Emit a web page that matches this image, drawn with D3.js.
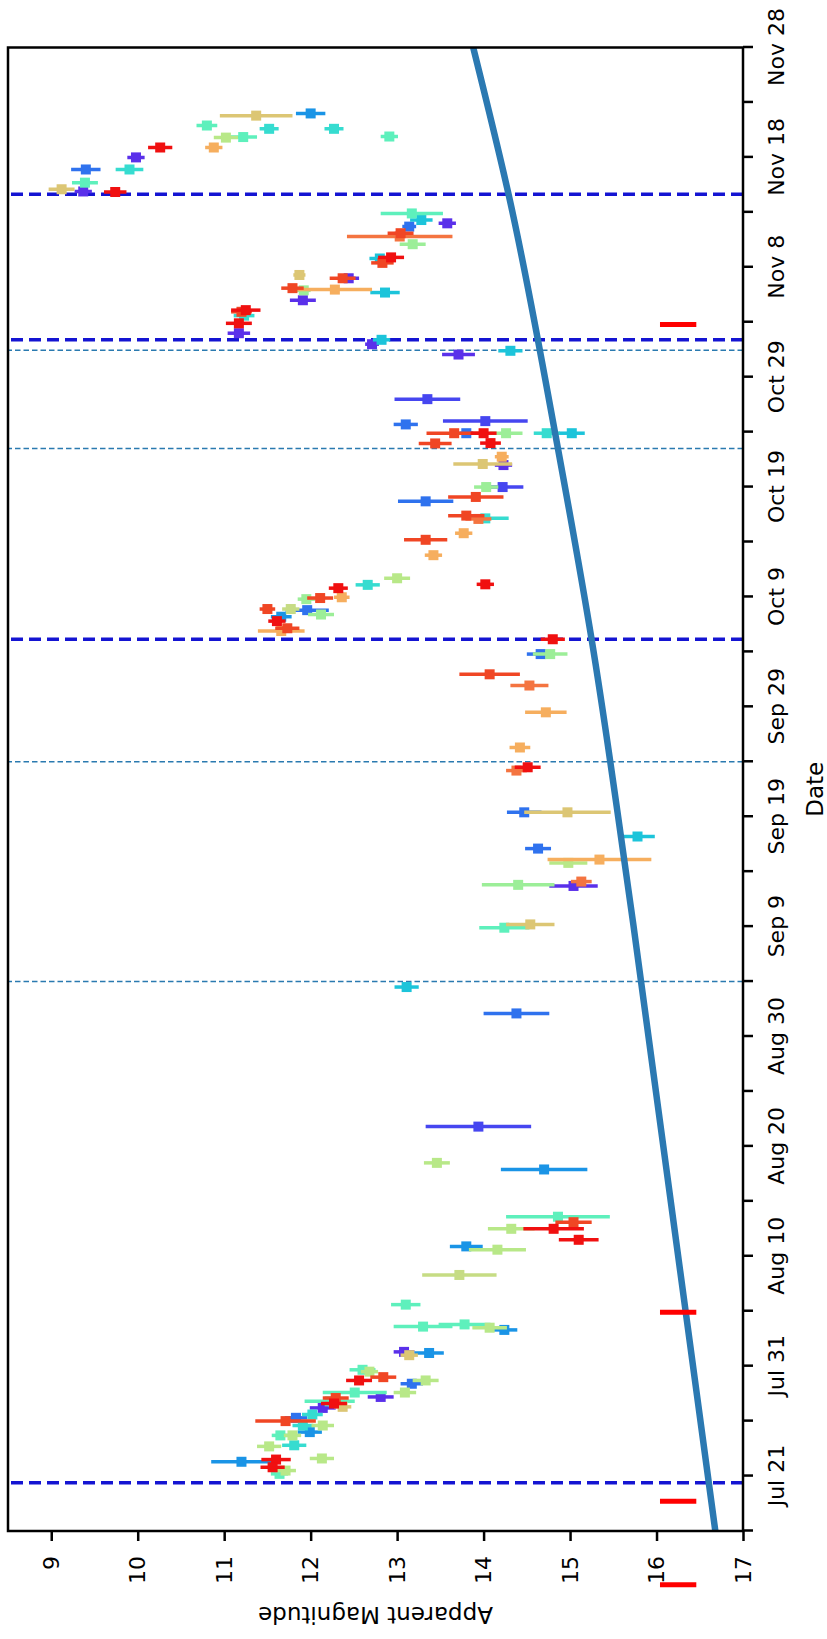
<!DOCTYPE html>
<html>
<head>
<meta charset="utf-8">
<script src="https://cdn.jsdelivr.net/npm/d3@7"></script>
<style>
  html, body { margin: 0; padding: 0; background: #ffffff; }
  svg { display: block; }
</style>
</head>
<body>
<svg id="chart" width="827" height="1639"></svg>
<script>
// ---------------- DATA (day-of-year 2020, magnitude, error) ----------------
const dateTickLabels = ["Jul 21","Jul 31","Aug 10","Aug 20","Aug 30","Sep 9","Sep 19","Sep 29","Oct 9","Oct 19","Oct 29","Nov 8","Nov 18","Nov 28"];
const magTicks = [9, 10, 11, 12, 13, 14, 15, 16, 17];
const dateDomain = [198, 333];          // Jul 16 .. Nov 28
const magDomain = [8.5, 17];

const thickDashedDates = [202.4, 279.15, 306.4, 319.65];
const thinDashedDates  = [248.0, 268.0, 296.5, 305.45];
const redMarkDates = [193.1, 200.7, 217.9, 307.8];
const redMarkRange = [16.04, 16.46];

const modelCurve = [[198, 16.68], [253.3, 15.73], [279.1, 15.25], [296.5, 14.86], [319.6, 14.29], [333, 13.88]];

const violet = [[323.0,9.98,0.10],[319.9,9.37,0.10],[317.0,13.58,0.10],[312.0,12.44,0.12],[310.0,11.91,0.15],[307.0,11.17,0.13],[306.0,12.71,0.08],[305.06,13.71,0.19],[295.0,14.23,0.10],[256.7,15.04,0.28],[214.3,13.08,0.12],[210.2,12.81,0.15],[209.2,12.14,0.15]];
const indigo = [[301.0,13.35,0.38],[299.0,14.02,0.49],[293.0,14.22,0.24],[234.8,13.94,0.61]];
const blue = [[321.9,9.40,0.17],[316.7,13.14,0.08],[298.7,13.10,0.14],[297.9,13.80,0.08],[291.7,13.33,0.32],[281.8,11.96,0.25],[277.8,14.66,0.16],[263.4,14.47,0.20],[260.1,14.63,0.15],[245.1,14.38,0.38],[211.4,13.17,0.13],[208.3,11.83,0.13]];
const azure = [[327.0,12.00,0.17],[281.2,11.66,0.12],[230.9,14.70,0.50],[223.9,13.80,0.19],[216.3,14.24,0.15],[214.2,13.37,0.17],[207.0,11.99,0.14],[204.3,11.20,0.35]];
const cyan = [[317.3,13.28,0.13],[313.8,12.80,0.12],[310.7,12.86,0.17],[306.4,12.82,0.10],[305.4,14.31,0.14],[297.9,15.02,0.15],[261.2,15.78,0.20],[247.5,13.11,0.14]];
const turquoise = [[325.6,11.52,0.11],[325.6,12.27,0.11],[321.9,9.905,0.16],[308.6,11.23,0.12],[297.9,14.73,0.15],[290.15,14.02,0.27],[284.1,12.66,0.14],[208.6,12.02,0.12],[207.6,11.91,0.12],[205.8,11.81,0.14]];
const aqua = [[325.9,10.80,0.12],[324.9,12.91,0.10],[324.85,11.22,0.16],[320.7,9.39,0.15],[317.9,13.17,0.36],[252.9,14.24,0.29],[226.6,14.86,0.60],[218.6,13.10,0.17],[216.6,13.30,0.34],[216.8,13.78,0.30],[212.67,12.60,0.15],[210.6,12.51,0.37],[209.8,12.22,0.29],[206.7,11.65,0.10],[203.2,11.64,0.10]];
const lightgreen = [[315.1,13.18,0.15],[310.9,11.92,0.08],[297.9,14.26,0.19],[293.0,14.03,0.14],[282.8,11.95,0.10],[281.4,12.12,0.15],[277.8,14.77,0.20],[256.8,14.40,0.42]];
const yellowgreen = [[324.8,11.02,0.14],[284.7,13.00,0.15],[258.8,14.98,0.22],[231.5,13.46,0.15],[225.5,14.32,0.27],[223.6,14.16,0.33],[216.5,14.07,0.20],[212.5,12.68,0.10],[211.7,13.33,0.15],[210.6,13.09,0.13],[207.6,12.14,0.13],[206.7,11.79,0.10],[205.7,11.52,0.14],[204.6,12.13,0.14],[203.5,11.71,0.12]];
const lime = [[281.9,11.77,0.10],[221.3,13.72,0.43]];
const khaki = [[326.8,11.37,0.42],[320.1,9.12,0.15],[312.3,11.87,0.07],[295.1,13.99,0.34],[263.4,14.97,0.50],[253.2,14.54,0.28],[214.0,13.14,0.10],[209.3,12.37,0.10]];
const lightorange = [[323.9,10.88,0.10],[310.97,12.28,0.43],[295.76,14.21,0.08],[288.8,13.77,0.10],[286.8,13.42,0.10],[282.97,12.36,0.09],[279.9,11.66,0.27],[272.5,14.72,0.24],[269.3,14.42,0.12],[259.1,15.34,0.60]];
const orange = [[315.8,13.03,0.61],[290.1,13.94,0.15],[274.94,14.53,0.22],[267.2,14.38,0.12],[257.1,15.13,0.12]];
const redorange = [[316.1,13.04,0.15],[313.4,12.83,0.13],[312.0,12.37,0.15],[311.1,11.79,0.13],[308.95,11.20,0.12],[297.9,13.66,0.32],[296.97,13.44,0.19],[292.1,13.91,0.32],[290.4,13.80,0.21],[288.2,13.33,0.25],[282.9,12.11,0.15],[281.9,11.50,0.09],[280.15,11.73,0.14],[275.96,14.07,0.35],[226.1,15.04,0.21],[212.0,12.84,0.15],[210.1,12.29,0.15],[208.0,11.71,0.35]];
const red = [[323.9,10.26,0.14],[319.85,9.74,0.13],[313.9,12.93,0.15],[309.1,11.25,0.17],[307.9,11.17,0.15],[297.9,14.00,0.15],[297.0,14.08,0.12],[284.15,14.02,0.10],[283.8,12.32,0.11],[280.8,11.61,0.10],[279.15,14.80,0.14],[267.5,14.51,0.15],[225.5,14.81,0.35],[224.5,15.10,0.23],[211.7,12.56,0.15],[209.6,12.27,0.15],[204.5,11.60,0.17],[203.8,11.56,0.14]];

const seriesList = [
  ["violet", violet], ["indigo", indigo], ["blue", blue], ["azure", azure], ["cyan", cyan],
  ["turquoise", turquoise], ["aqua", aqua], ["lightgreen", lightgreen], ["yellowgreen", yellowgreen],
  ["lime", lime], ["khaki", khaki], ["lightorange", lightorange], ["orange", orange],
  ["redorange", redorange], ["red", red]
];

// ---------------- STYLE ----------------
const seriesColors = {
  violet: "#5a30ea", indigo: "#4646f0", blue: "#2f72ee", azure: "#1a94e6", cyan: "#1cc4da",
  turquoise: "#36dcd0", aqua: "#5ef0bc", lightgreen: "#9cee98", yellowgreen: "#b8e888",
  lime: "#c6dc84", khaki: "#dcc674", lightorange: "#f6ae5e", orange: "#f47440",
  redorange: "#f04624", red: "#f01010"
};
const FONT = "DejaVu Sans, Liberation Sans, sans-serif";
const PAGE_W = 827, PAGE_H = 1639;
const box = { left: 8, right: 743, top: 47.5, bottom: 1531 };   // page coordinates
const MARK = 10;

// Chart drawn in an unrotated frame (width = page height), then rotated -90deg.
const svg = d3.select("#chart");
const root = svg.append("g").attr("transform", `translate(0,${PAGE_H}) rotate(-90)`);

const toDate = doy => new Date(Date.UTC(2020, 0, 1) + (doy - 1) * 864e5);
const x = d3.scaleUtc().domain(dateDomain.map(toDate)).range([PAGE_H - box.bottom, PAGE_H - box.top]);
const y = d3.scaleLinear().domain(magDomain).range([box.left, box.right]);

const x0 = x.range()[0], x1 = x.range()[1], y0 = y.range()[0], y1 = y.range()[1];

root.append("clipPath").attr("id", "clip").append("rect")
  .attr("x", x0).attr("y", y0).attr("width", x1 - x0).attr("height", y1 - y0);

const plotG = root.append("g").attr("clip-path", "url(#clip)");

// thin dashed vertical lines
plotG.selectAll(".thin").data(thinDashedDates).join("line")
  .attr("x1", d => x(toDate(d))).attr("x2", d => x(toDate(d)))
  .attr("y1", y1).attr("y2", y0)
  .attr("stroke", "#2a7ab0").attr("stroke-width", 1.5).attr("stroke-dasharray", "5.5,3");

// thick dashed vertical lines
plotG.selectAll(".thick").data(thickDashedDates).join("line")
  .attr("x1", d => x(toDate(d))).attr("x2", d => x(toDate(d)))
  .attr("y1", y1).attr("y2", y0)
  .attr("stroke", "#1414d2").attr("stroke-width", 3.5).attr("stroke-dasharray", "12,6");

// data points with error bars
seriesList.forEach(([name, data]) => {
  const col = seriesColors[name];
  const g = plotG.append("g").attr("class", "series-" + name);
  g.selectAll("line").data(data).join("line")
    .attr("x1", d => x(toDate(d[0]))).attr("x2", d => x(toDate(d[0])))
    .attr("y1", d => y(d[1] - d[2])).attr("y2", d => y(d[1] + d[2]))
    .attr("stroke", col).attr("stroke-width", 3.5);
  g.selectAll("rect").data(data).join("rect")
    .attr("x", d => x(toDate(d[0])) - MARK / 2).attr("y", d => y(d[1]) - MARK / 2)
    .attr("width", MARK).attr("height", MARK).attr("fill", col);
});

// model curve
plotG.append("path").datum(modelCurve)
  .attr("d", d3.line().x(d => x(toDate(d[0]))).y(d => y(d[1])).curve(d3.curveMonotoneX))
  .attr("fill", "none").attr("stroke", "#2b79b2").attr("stroke-width", 6.5);

// red marks (not clipped)
root.selectAll(".redmark").data(redMarkDates).join("line")
  .attr("x1", d => x(toDate(d))).attr("x2", d => x(toDate(d)))
  .attr("y1", y(redMarkRange[0])).attr("y2", y(redMarkRange[1]))
  .attr("stroke", "#ff0000").attr("stroke-width", 5);

// axes
const dateTicks = d3.utcDay.range(toDate(dateDomain[0]), toDate(dateDomain[1] + 0.5)).filter((d, i) => i % 5 === 0);
const xAxis = d3.axisBottom(x).tickValues(dateTicks)
  .tickFormat((d, i) => (i % 2 === 1 ? dateTickLabels[(i - 1) / 2] : ""))
  .tickSize(10).tickPadding(15).tickSizeOuter(0);
const yAxis = d3.axisLeft(y).tickValues(magTicks).tickFormat(d3.format("d"))
  .tickSize(10).tickPadding(15).tickSizeOuter(0);

const gx = root.append("g").attr("transform", `translate(0,${y1})`).call(xAxis);
const gy = root.append("g").attr("transform", `translate(${x0},0)`).call(yAxis);
[gx, gy].forEach(g => {
  g.select(".domain").remove();
  g.selectAll(".tick line").attr("stroke", "#000").attr("stroke-width", 2.5);
  g.selectAll(".tick text").attr("fill", "#000").style("font-family", FONT).style("font-size", "22px");
});

// frame
root.append("rect").attr("x", x0).attr("y", y0).attr("width", x1 - x0).attr("height", y1 - y0)
  .attr("fill", "none").attr("stroke", "#000").attr("stroke-width", 2.5);

// axis labels
root.append("text").attr("x", (x0 + x1) / 2).attr("y", 815).attr("dy", "0.35em")
  .attr("text-anchor", "middle").style("font-family", FONT).style("font-size", "23px")
  .attr("fill", "#000").text("Date");
root.append("text").attr("transform", `translate(24,${(y0 + y1) / 2}) rotate(-90)`).attr("dy", "0.35em")
  .attr("text-anchor", "middle").style("font-family", FONT).style("font-size", "23px")
  .attr("fill", "#000").text("Apparent Magnitude");
</script>
</body>
</html>
